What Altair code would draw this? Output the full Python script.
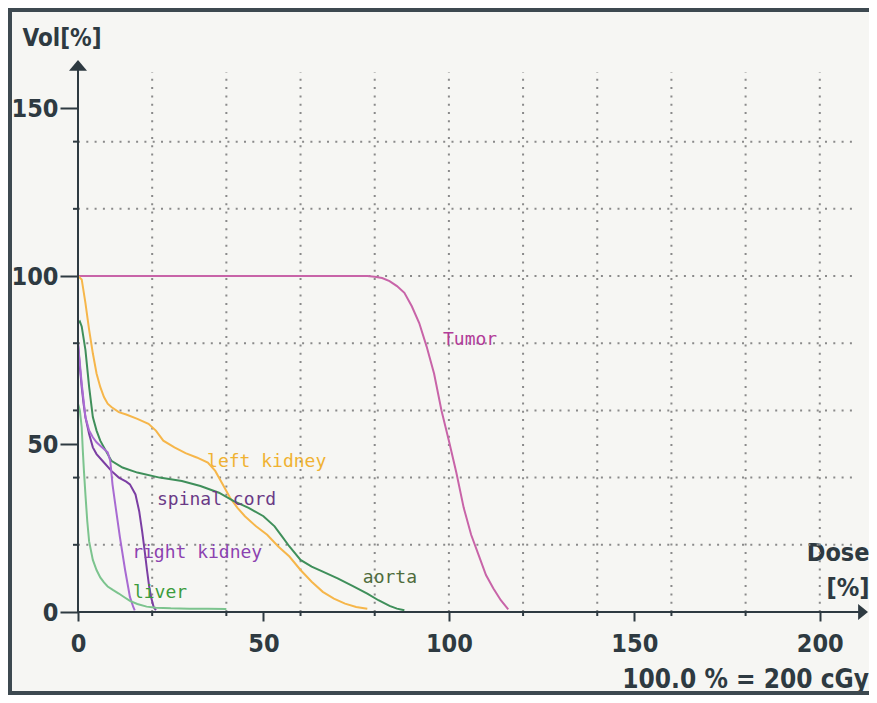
import altair as alt
import pandas as pd

# ---------------- data (dose in %, volume in %) ----------------
tumor_dose = [0, 78, 80, 82, 84, 86, 88, 90, 92, 94, 96, 98, 100, 102, 104, 106, 108, 110, 112, 114, 116]
tumor_vol = [100, 100, 99.8, 99.4, 98.5, 97, 95, 91, 86, 79, 71, 60, 51, 41.5, 31, 23, 17, 11, 7, 3.5, 0.8]

lkid_dose = [0, 1, 2, 3, 4, 5, 6, 7, 8, 9, 11, 13, 16, 19, 21, 23, 26, 29, 32, 35, 37, 39, 41, 43, 45,
             48, 51, 54, 57, 60, 63, 66, 69, 72, 75, 78]
lkid_vol = [100, 99, 92, 84, 77, 71, 67, 64, 62, 61, 59.5, 58.8, 57.5, 56, 54, 51, 49, 47.3, 46, 44.5, 42,
            38, 34, 31, 28.5, 25.5, 23, 19.5, 16.5, 12.5, 9, 6, 4, 2.5, 1.5, 1]

aorta_dose = [0, 0.5, 1, 2, 3, 4, 5, 6, 7, 9, 12, 16, 22, 28, 33, 38, 42, 46, 50, 53, 55, 57, 60, 63, 66,
              70, 74, 78, 81, 84, 86, 88]
aorta_vol = [86, 86.5, 85, 78, 67, 58, 54, 51, 49, 45, 43, 41.5, 40, 39, 37.5, 35.5, 33, 31, 28.5, 25.5,
             22.5, 19.5, 15.5, 13.5, 12, 10, 7.8, 5.5, 3.5, 1.8, 1, 0.5]

spinal_dose = [0, 0.5, 1, 1.5, 2, 3, 4, 5, 7, 9, 11, 13, 14, 15.5, 16.5, 17.3, 18, 18.6, 19.2, 19.8, 20.4, 21]
spinal_vol = [80, 73, 67, 62, 58, 53, 49, 47, 44.5, 42, 40, 38.8, 38, 35, 30, 24, 18, 12.5, 7.5, 4, 1.5, 0.5]

rkid_dose = [0, 0.5, 1, 2, 3, 4, 5, 6, 7, 8, 8.7, 9.3, 10, 11.3, 12.7, 14, 14.9, 15.3]
rkid_vol = [80, 74, 68, 58, 54, 52, 50.5, 49.5, 48.5, 47.5, 45, 38, 32.4, 22.3, 12.5, 4.5, 1.5, 0.5]

liver_dose = [0, 0.5, 1, 1.3, 1.6, 2, 2.5, 3, 4, 5, 6, 7, 8, 9.5, 11, 12.5, 14, 16, 18.5, 21, 25, 30, 35, 40]
liver_vol = [62, 60, 55, 48, 42, 35, 27, 21, 15.5, 12.5, 10.3, 8.8, 7.6, 6.5, 5.5, 4.4, 3.3, 2.4, 1.6,
             1.3, 1.1, 1, 1, 0.9]

organs = ["Tumor", "left kidney", "aorta", "spinal cord", "right kidney", "liver"]
line_colors = ["#c864a8", "#f6b64a", "#3f8f5a", "#7b3ea3", "#a86ad2", "#7cc48e"]

label_text = ["Tumor", "left kidney", "spinal cord", "right kidney", "liver", "aorta"]
label_dose = [98.4, 34.8, 21.3, 14.6, 14.8, 76.8]
label_vol = [81, 44.6, 33.3, 17.6, 5.7, 10.1]
label_colors = ["#b23c98", "#f0b232", "#6a3a86", "#8c42b0", "#3c9c3c", "#4f6c3c"]

x_major = [0, 50, 100, 150, 200]
y_major = [0, 50, 100, 150]
x_minor = [20, 40, 60, 80, 120, 140, 160, 180]
y_minor = [20, 40, 60, 80, 120, 140]
grid_x = [20, 40, 60, 80, 100, 120, 140, 160, 180, 200]
grid_y = [20, 40, 60, 80, 100, 120, 140]

X_MAX = 213
Y_MAX = 164.3
GRID_TOP = 160.7
GRID_RIGHT = 209.4

# ---------------- build tables ----------------
series = [
    ("Tumor", tumor_dose, tumor_vol),
    ("left kidney", lkid_dose, lkid_vol),
    ("aorta", aorta_dose, aorta_vol),
    ("spinal cord", spinal_dose, spinal_vol),
    ("right kidney", rkid_dose, rkid_vol),
    ("liver", liver_dose, liver_vol),
]
rows = []
for name, d, v in series:
    for i, (a, b) in enumerate(zip(d, v)):
        rows.append({"organ": name, "dose": a, "vol": b, "i": i})
curves_df = pd.DataFrame(rows)
labels_df = pd.DataFrame({"label": label_text, "dose": label_dose, "vol": label_vol})

DARK = "#2e3a41"
BIG = "'DejaVu Sans Condensed', 'DejaVu Sans', sans-serif"
NUM = "'Liberation Sans Narrow', 'DejaVu Sans Condensed', sans-serif"
MONO = "'DejaVu Sans Mono', monospace"

xs = alt.Scale(domain=[0, X_MAX], nice=False, zero=False)
ys = alt.Scale(domain=[0, Y_MAX], nice=False, zero=False)

xaxis = alt.Axis(values=x_major, format="d", title=["Dose", "[%]"], titleX=791, titleY=-52,
                 titleAlign="right", titleAngle=0, titleBaseline="alphabetic",
                 titleFont=BIG, titleFontSize=25, titleFontWeight="bold", titleColor=DARK,
                 titleLineHeight=35,
                 labelFont=NUM, labelFontSize=25, labelFontWeight="bold", labelColor=DARK,
                 labelPadding=10, labelFlush=False, labelOverlap=False,
                 tickSize=9, tickWidth=2, tickColor=DARK, domain=False, grid=False)
yaxis = alt.Axis(values=y_major, format="d", title="Vol[%]", titleX=-56, titleY=-15,
                 titleAlign="left", titleAngle=0, titleBaseline="alphabetic",
                 titleFont=BIG, titleFontSize=24, titleFontWeight="bold", titleColor=DARK,
                 labelFont=NUM, labelFontSize=25, labelFontWeight="bold", labelColor=DARK,
                 labelPadding=2, labelFlush=False, labelOverlap=False,
                 tickSize=18, tickWidth=2, tickColor=DARK, domain=False, grid=False)

one = pd.DataFrame({"k": [0]})

vgrid = alt.Chart(pd.DataFrame({"g": grid_x})).mark_rule(
    color="#8a8a8a", strokeWidth=2, strokeDash=[2, 6.3]
).encode(x=alt.X("g:Q", scale=xs, axis=None),
         y=alt.YDatum(0, scale=ys, axis=None), y2=alt.Y2Datum(GRID_TOP))

hgrid = alt.Chart(pd.DataFrame({"g": grid_y})).mark_rule(
    color="#8a8a8a", strokeWidth=2, strokeDash=[2, 6.3]
).encode(y=alt.Y("g:Q", scale=ys, axis=None),
         x=alt.XDatum(0, scale=xs, axis=None), x2=alt.X2Datum(GRID_RIGHT))

curves = alt.Chart(curves_df).mark_line(strokeWidth=2).encode(
    x=alt.X("dose:Q", scale=xs, axis=xaxis),
    y=alt.Y("vol:Q", scale=ys, axis=yaxis),
    color=alt.Color("organ:N", scale=alt.Scale(domain=organs, range=line_colors), legend=None),
    order="i:Q",
)

xline = alt.Chart(one).mark_rule(color=DARK, strokeWidth=2).encode(
    x=alt.XDatum(0, scale=xs, axis=None), x2=alt.X2Datum(X_MAX - 2),
    y=alt.YDatum(0, scale=ys, axis=None))
yline = alt.Chart(one).mark_rule(color=DARK, strokeWidth=2).encode(
    x=alt.XDatum(0, scale=xs, axis=None),
    y=alt.YDatum(0, scale=ys, axis=None), y2=alt.Y2Datum(Y_MAX - 2))

x_minor_ticks = alt.Chart(pd.DataFrame({"t": x_minor})).mark_rule(color=DARK, strokeWidth=2).encode(
    x=alt.X("t:Q", scale=xs, axis=None), y=alt.value(552), y2=alt.value(556))
y_minor_ticks = alt.Chart(pd.DataFrame({"t": y_minor})).mark_rule(color=DARK, strokeWidth=2).encode(
    y=alt.Y("t:Q", scale=ys, axis=None), x=alt.value(-5), x2=alt.value(0))

up_arrow = alt.Chart(one).mark_point(
    shape="M0,0 L1,1.2 L-1,1.2 Z", size=324, filled=True, color=DARK, opacity=1, strokeWidth=0
).encode(x=alt.XDatum(0, scale=xs, axis=None), y=alt.YDatum(Y_MAX, scale=ys, axis=None))
right_arrow = alt.Chart(one).mark_point(
    shape="M0,0 L-1.1,-0.9 L-1.1,0.9 Z", size=324, filled=True, color=DARK, opacity=1, strokeWidth=0
).encode(x=alt.XDatum(X_MAX, scale=xs, axis=None), y=alt.YDatum(0, scale=ys, axis=None))

labels = alt.Chart(labels_df).mark_text(
    font=MONO, fontSize=18, align="left", baseline="middle"
).encode(
    x=alt.X("dose:Q", scale=xs, axis=None),
    y=alt.Y("vol:Q", scale=ys, axis=None),
    text="label:N",
    color=alt.Color("label:N", scale=alt.Scale(domain=label_text, range=label_colors), legend=None),
)

note = alt.Chart(one).mark_text(
    text="100.0 % = 200 cGy", font=BIG, fontSize=26, fontWeight="bold", color=DARK,
    align="right", baseline="alphabetic"
).encode(x=alt.value(791), y=alt.value(628))

frame_top = alt.Chart(one).mark_rect(color="#3d4950").encode(
    x=alt.value(-70), x2=alt.value(792), y=alt.value(-52), y2=alt.value(-48))
frame_left = alt.Chart(one).mark_rect(color="#3d4950").encode(
    x=alt.value(-70), x2=alt.value(-66), y=alt.value(-52), y2=alt.value(635))
frame_bottom = alt.Chart(one).mark_rect(color="#3d4950").encode(
    x=alt.value(-70), x2=alt.value(792), y=alt.value(631), y2=alt.value(635))

chart = alt.layer(
    vgrid, hgrid, curves, xline, yline, x_minor_ticks, y_minor_ticks,
    up_arrow, right_arrow, labels, note, frame_top, frame_left, frame_bottom
).resolve_scale(color="independent").resolve_axis(x="independent", y="independent").properties(
    width=790, height=552,
    padding={"left": 70, "top": 52, "right": 1, "bottom": 83},
    autosize=alt.AutoSizeParams(type="none"),
    background="#f6f6f3",
).configure_view(stroke=None)

chart.save("out.html", embed_options={"renderer": "svg", "actions": False})
